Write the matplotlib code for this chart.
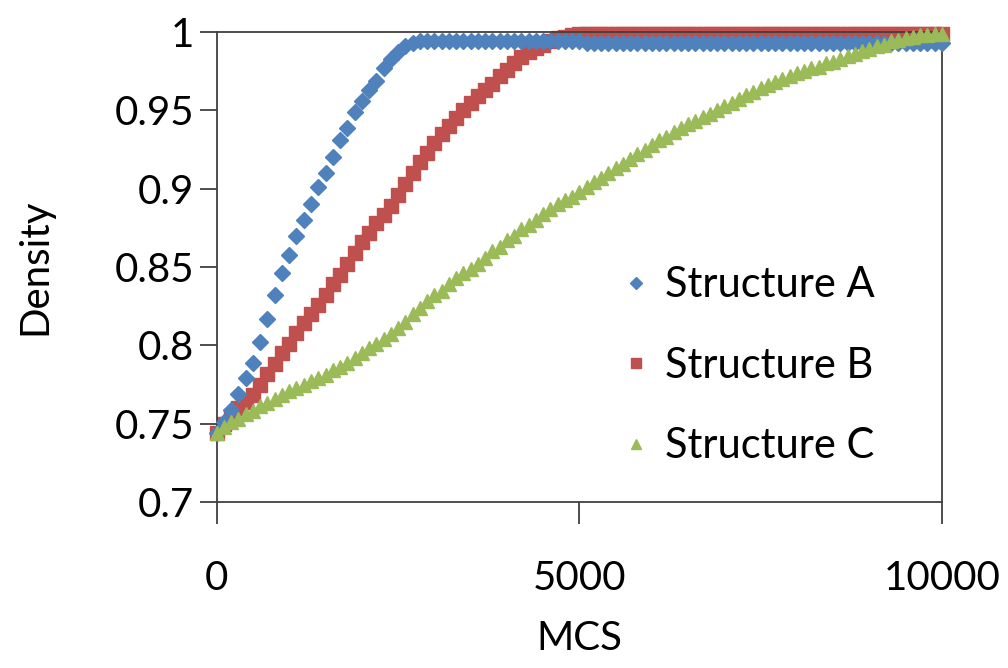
import numpy as np
import matplotlib
matplotlib.use("Agg")
import matplotlib.pyplot as plt

# MCS steps, one marker every 100
mcs = np.arange(0, 10001, 100)

# Structure A: fast rise, levels off just under 1
structure_a = [
    0.744, 0.751, 0.759, 0.769, 0.779, 0.789, 0.802, 0.817, 0.832, 0.846,
    0.858, 0.870, 0.880, 0.890, 0.901, 0.910, 0.920, 0.931, 0.939, 0.949,
    0.956, 0.963, 0.969, 0.977, 0.983, 0.987, 0.991, 0.993, 0.994, 0.994,
    0.994, 0.994, 0.994, 0.994, 0.994, 0.994, 0.994, 0.994, 0.994, 0.994,
    0.994, 0.994, 0.994, 0.994, 0.994, 0.994, 0.994, 0.994, 0.994, 0.994,
    0.994, 0.993, 0.993, 0.993, 0.993, 0.993, 0.993, 0.993, 0.993, 0.993,
    0.993, 0.993, 0.993, 0.993, 0.993, 0.993, 0.993, 0.993, 0.993, 0.993,
    0.993, 0.993, 0.993, 0.993, 0.993, 0.993, 0.993, 0.993, 0.993, 0.993,
    0.993, 0.993, 0.993, 0.993, 0.993, 0.993, 0.993, 0.993, 0.993, 0.993,
    0.993, 0.993, 0.993, 0.993, 0.993, 0.993, 0.993, 0.993, 0.993, 0.993,
    0.993,
]

# Structure B: reaches 1 around 5000
structure_b = [
    0.744, 0.750, 0.755, 0.760, 0.764, 0.768, 0.775, 0.782, 0.788, 0.795,
    0.801, 0.808, 0.814, 0.820, 0.826, 0.832, 0.839, 0.845, 0.852, 0.859,
    0.866, 0.872, 0.878, 0.883, 0.889, 0.896, 0.903, 0.910, 0.917, 0.923,
    0.929, 0.935, 0.940, 0.945, 0.950, 0.955, 0.959, 0.963, 0.967, 0.972,
    0.976, 0.980, 0.984, 0.987, 0.990, 0.992, 0.994, 0.996, 0.997, 0.998,
    0.999, 0.999, 0.999, 0.999, 0.999, 0.999, 0.999, 0.999, 0.999, 0.999,
    0.999, 0.999, 0.999, 0.999, 0.999, 0.999, 0.999, 0.999, 0.999, 0.999,
    0.999, 0.999, 0.999, 0.999, 0.999, 0.999, 0.999, 0.999, 0.999, 0.999,
    0.999, 0.999, 0.999, 0.999, 0.999, 0.999, 0.999, 0.999, 0.999, 0.999,
    0.999, 0.999, 0.999, 0.999, 0.999, 0.999, 0.999, 0.999, 0.999, 0.999,
    0.999,
]

# Structure C: slow rise across the whole run
structure_c = [
    0.744, 0.748, 0.751, 0.753, 0.756, 0.758, 0.761, 0.763, 0.766, 0.768,
    0.771, 0.773, 0.775, 0.777, 0.779, 0.781, 0.784, 0.786, 0.789, 0.792,
    0.795, 0.798, 0.801, 0.804, 0.807, 0.811, 0.815, 0.820, 0.824, 0.828,
    0.832, 0.835, 0.839, 0.843, 0.846, 0.849, 0.852, 0.856, 0.860, 0.863,
    0.867, 0.870, 0.874, 0.877, 0.880, 0.884, 0.887, 0.890, 0.893, 0.895,
    0.898, 0.901, 0.904, 0.907, 0.910, 0.913, 0.916, 0.919, 0.922, 0.925,
    0.928, 0.931, 0.933, 0.936, 0.939, 0.941, 0.943, 0.946, 0.948, 0.950,
    0.953, 0.955, 0.957, 0.960, 0.962, 0.964, 0.966, 0.968, 0.970, 0.972,
    0.974, 0.975, 0.977, 0.978, 0.980, 0.981, 0.983, 0.985, 0.986, 0.988,
    0.989, 0.991, 0.992, 0.994, 0.995, 0.996, 0.997, 0.998, 0.998, 0.999,
    0.999,
]

series_labels = ["Structure A", "Structure B", "Structure C"]
x_ticks = [0, 5000, 10000]
y_ticks = [0.7, 0.75, 0.8, 0.85, 0.9, 0.95, 1.0]
y_tick_labels = ["0.7", "0.75", "0.8", "0.85", "0.9", "0.95", "1"]

plt.rcParams["font.family"] = ["Lato", "DejaVu Sans"]

fig = plt.figure(figsize=(10.08, 6.68), dpi=100)
ax = fig.add_axes([0.215, 0.2485, 0.7195, 0.7035])

ax.plot(mcs, structure_a, linestyle="none", marker="D", markersize=8.5,
        color="#4F81BD", label=series_labels[0], zorder=3, clip_on=False)
ax.plot(mcs, structure_b, linestyle="none", marker="s", markersize=9.5,
        color="#C0504D", label=series_labels[1], zorder=2, clip_on=False)
ax.plot(mcs, structure_c, linestyle="none", marker="^", markersize=10.5,
        color="#9BBB59", label=series_labels[2], zorder=4, clip_on=False)

ax.set_xlim(0, 10000)
ax.set_ylim(0.7, 1.0)
ax.set_xticks(x_ticks)
ax.set_xticklabels([str(t) for t in x_ticks])
ax.set_yticks(y_ticks)
ax.set_yticklabels(y_tick_labels)

for s in ax.spines.values():
    s.set_color("#404040")
    s.set_linewidth(1.3)
ax.tick_params(axis="both", direction="out", length=12, width=1.3,
               color="#404040", labelsize=29)
ax.tick_params(axis="y", pad=4)
ax.tick_params(axis="x", length=16, pad=26)

ax.set_xlabel("MCS", fontsize=29, labelpad=16)
ax.set_ylabel("Density", fontsize=29, labelpad=44)

leg = ax.legend(loc="center left", bbox_to_anchor=(0.50, 0.29), frameon=False,
                fontsize=30, handletextpad=0.25, labelspacing=1.02,
                handlelength=0.9, markerscale=0.7)

fig.savefig("out.png", dpi=100)
